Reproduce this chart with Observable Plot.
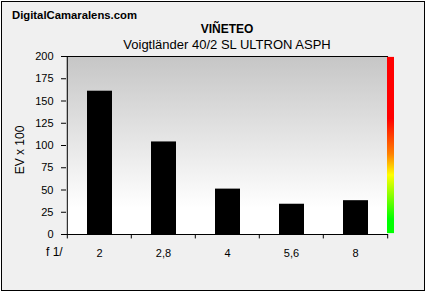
<!DOCTYPE html>
<html>
<head>
<meta charset="utf-8">
<script src="https://cdn.jsdelivr.net/npm/d3@7"></script>
<script src="https://cdn.jsdelivr.net/npm/@observablehq/plot@0.6"></script>
<style>
  html, body { margin: 0; padding: 0; background: #ffffff; }
  #wrap { position: relative; width: 426px; height: 293px; overflow: hidden; font-family: Arial, "Liberation Sans", sans-serif; }
  #border { position: absolute; left: 1px; top: 1px; width: 422px; height: 288px; border: 1px solid #000; background: #f0f0f0; }
  #chart { position: absolute; left: 0; top: 0; }
  .t { position: absolute; white-space: nowrap; color: #000; }
  #site { left: 12px; top: 9px; font-size: 11.3px; font-weight: bold; }
  #title { left: 227px; top: 22px; transform: translateX(-50%); font-size: 12px; font-weight: bold; }
  #subtitle { left: 227px; top: 37px; transform: translateX(-50%); font-size: 13px; }
  #ylab { left: 20px; top: 150px; transform: translate(-50%, -50%) rotate(-90deg); font-size: 12px; }
  #flab { left: 46px; top: 245px; font-size: 12px; }
</style>
</head>
<body>
<div id="wrap">
  <div id="border"></div>
  <div id="chart"></div>
  <div class="t" id="site">DigitalCamaralens.com</div>
  <div class="t" id="title">VIÑETEO</div>
  <div class="t" id="subtitle">Voigtländer 40/2 SL ULTRON ASPH</div>
  <div class="t" id="ylab">EV x 100</div>
  <div class="t" id="flab">f 1/</div>
</div>
<script>
const apertures = ["2", "2,8", "4", "5,6", "8"];
const vignetting = [161, 104, 51, 34, 38];
const yTicks = [0, 25, 50, 75, 100, 125, 150, 175, 200];

const data = apertures.map((a, i) => ({aperture: a, value: vignetting[i]}));
const bw = (388 - 66) / apertures.length;

const plot = Plot.plot({
  width: 426,
  height: 293,
  marginTop: 56,
  marginBottom: 59,
  marginLeft: 66,
  marginRight: 38,
  style: {background: "transparent", fontFamily: "Arial, 'Liberation Sans', sans-serif", fontSize: "11px", color: "#000"},
  x: {domain: apertures, padding: 0, label: null},
  y: {domain: [0, 200], label: null},
  marks: [
    Plot.frame({fill: "url(#bggrad)", stroke: null}),
    Plot.rectY(data, {x: "aperture", y: "value", fill: "#000", insetLeft: 20, insetRight: 19}),
    Plot.axisY({ticks: yTicks, tickSize: 5, tickPadding: 8, label: null, fontSize: 11}),
    Plot.axisX({tickSize: 0, tickPadding: 15, label: null, fontSize: 11}),
    Plot.ruleX(apertures, {x: d => d, dx: -bw / 2, y1: 0, y2: -5, stroke: "#000"}),
    Plot.ruleX([apertures[apertures.length - 1]], {x: d => d, dx: bw / 2, y1: 0, y2: -5, stroke: "#000"}),
    Plot.ruleY([0], {stroke: "#000"}),
    Plot.ruleY([200], {stroke: "#000"}),
    Plot.ruleX([apertures[0]], {x: d => d, dx: -bw / 2, y1: 0, y2: 200, stroke: "#000"})
  ]
});

const svg = d3.select(plot);
const defs = svg.insert("defs", ":first-child");
const bg = defs.append("linearGradient").attr("id", "bggrad").attr("x1", 0).attr("y1", 0).attr("x2", 0).attr("y2", 1);
bg.append("stop").attr("offset", 0).attr("stop-color", "#c6c6c6");
bg.append("stop").attr("offset", 0.85).attr("stop-color", "#ffffff");
bg.append("stop").attr("offset", 1).attr("stop-color", "#ffffff");
const cb = defs.append("linearGradient").attr("id", "cbgrad").attr("x1", 0).attr("y1", 0).attr("x2", 0).attr("y2", 1);
[[0, "#ff0000"], [0.35, "#ff0000"], [0.55, "#ff8000"], [0.67, "#ffff00"], [0.92, "#00ff00"], [1, "#00ff00"]]
  .forEach(([o, c]) => cb.append("stop").attr("offset", o).attr("stop-color", c));

const ys = plot.scale("y");
svg.append("rect")
  .attr("x", 387).attr("width", 7)
  .attr("y", ys.apply(199)).attr("height", ys.apply(1) - ys.apply(199))
  .attr("fill", "url(#cbgrad)");

document.getElementById("chart").appendChild(plot);
</script>
</body>
</html>
